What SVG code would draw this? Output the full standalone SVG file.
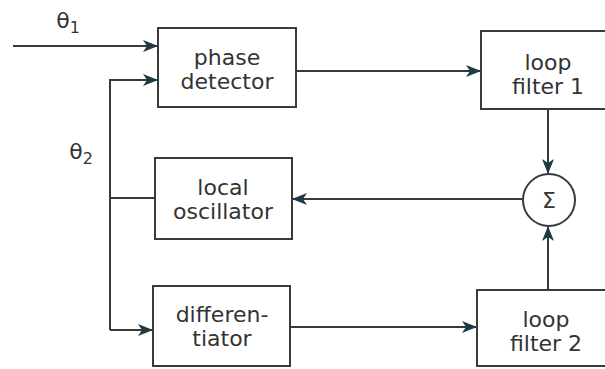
<svg xmlns="http://www.w3.org/2000/svg" width="605" height="369" viewBox="0 0 605 369">
<style>
.box{fill:#fff;stroke:#3a3a3a;stroke-width:2}
.t{font-family:"DejaVu Sans",sans-serif;font-size:22px;fill:#333;text-anchor:middle}
.ln{fill:none;stroke:#3a3a3a;stroke-width:2}
</style>
<defs>
<marker id="ah" viewBox="0 0 15 12" refX="14" refY="6" markerWidth="15" markerHeight="12" markerUnits="userSpaceOnUse" orient="auto">
<path d="M0,0 L15,6 L0,12 L4,6 Z" fill="#1d3b42"/>
</marker>
</defs>
<rect width="605" height="369" fill="#fff"/>
<g id="connectors">
<path class="ln" d="M13,46 H157" marker-end="url(#ah)"/>
<path class="ln" d="M110,330 V80 H157" marker-end="url(#ah)"/>
<path class="ln" d="M110,330 H152" marker-end="url(#ah)"/>
<path class="ln" d="M155,198 H110"/>
<path class="ln" d="M296,71 H480" marker-end="url(#ah)"/>
<path class="ln" d="M548,109 V173" marker-end="url(#ah)"/>
<path class="ln" d="M522,199 H293" marker-end="url(#ah)"/>
<path class="ln" d="M548,290 V227" marker-end="url(#ah)"/>
<path class="ln" d="M290,327 H476" marker-end="url(#ah)"/>
</g>
<g id="theta1"><text class="t" x="68" y="28" font-size="24">θ<tspan font-size="16" dy="5">1</tspan></text></g>
<g id="theta2"><text class="t" x="81" y="159" font-size="24">θ<tspan font-size="16" dy="5">2</tspan></text></g>
<g id="phase-detector">
<rect class="box" x="158" y="28" width="138" height="79"/>
<text class="t" x="227" y="65">phase</text>
<text class="t" x="227" y="89">detector</text>
</g>
<g id="loop-filter-1">
<rect class="box" x="481" y="31" width="140" height="78"/>
<text class="t" x="548" y="70">loop</text>
<text class="t" x="548" y="94">filter 1</text>
</g>
<g id="sum">
<circle cx="549" cy="200" r="26" fill="#fff" stroke="#3a3a3a" stroke-width="2"/>
<text class="t" x="549" y="208" font-size="20">Σ</text>
</g>
<g id="local-oscillator">
<rect class="box" x="155" y="158" width="137" height="81"/>
<text class="t" x="223" y="195">local</text>
<text class="t" x="223" y="219">oscillator</text>
</g>
<g id="differentiator">
<rect class="box" x="153" y="286" width="137" height="80"/>
<text class="t" x="222" y="322">differen-</text>
<text class="t" x="222" y="346">tiator</text>
</g>
<g id="loop-filter-2">
<rect class="box" x="477" y="290" width="140" height="76"/>
<text class="t" x="546" y="327">loop</text>
<text class="t" x="546" y="351">filter 2</text>
</g>
</svg>
